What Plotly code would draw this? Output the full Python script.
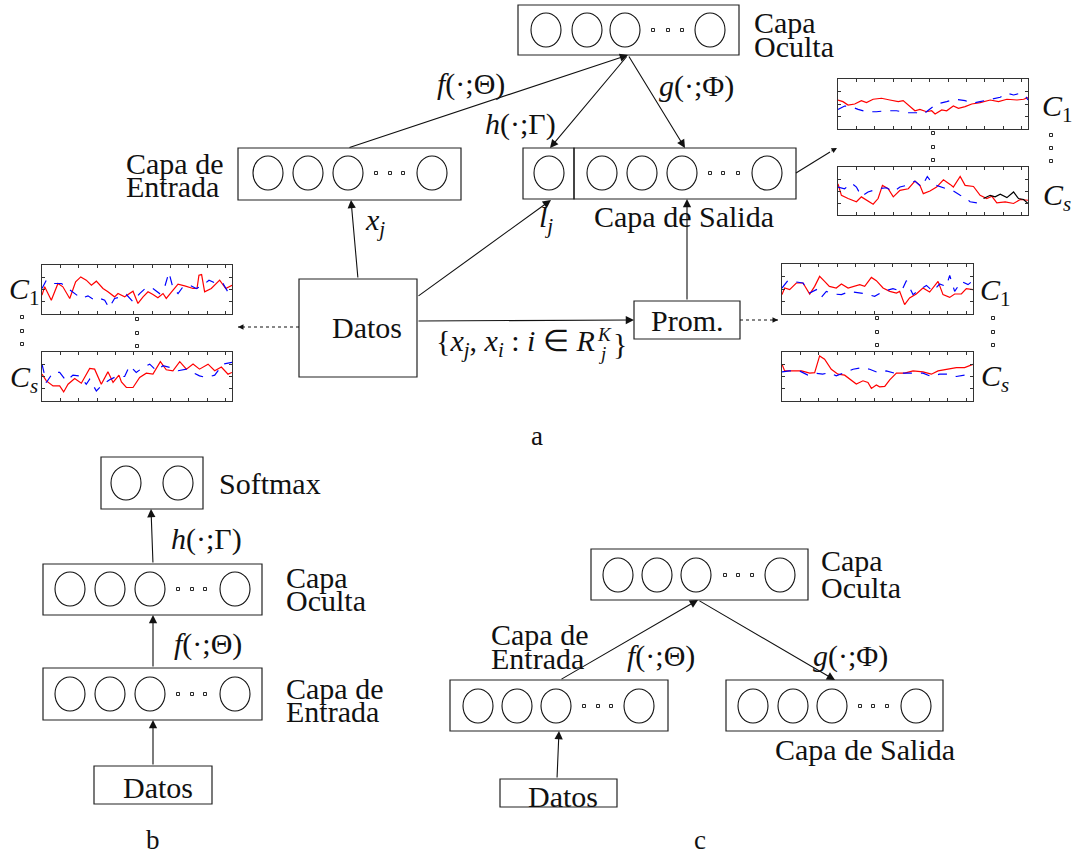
import plotly.graph_objects as go

W, H = 1077, 857
FONT = "Liberation Serif, 'Times New Roman', serif"
FS = 30

# ---------------- signal panels: t = % of window, v = standardized level ----------------
in_c1_red_t = [0, 1.4, 4.9, 8.4, 11, 14.6, 17.7, 20.4, 23.3, 26, 28.6, 32.1, 34.7, 38.2, 40, 43.5, 47.9, 50.5, 53.2, 55.8,
               58.4, 61, 63.7, 65.4, 68, 71.6, 75.1, 79.5, 81.6, 82.6, 84, 85.6, 89.1, 93.5, 96.7, 100]
in_c1_red_v = [-0.46, 0.22, -0.87, 0.49, 0.22, -0.73, 0.63, 1.03, 0.76, 0.35, 0.68, 0.08, -0.19, -0.6, -0.33, -0.6, -0.14,
               -1.14, -0.6, -0.19, -0.41, -0.68, -0.33, -0.73, -0.24, 0.44, 0.3, 0.08, 0.08, 1.17, 1.22, -0.19, 0.08, 0.76,
               0.08, 0.35]
in_c1_blue_t = [0, 2.3, 5.8, 10.2, 13.7, 17.2, 20.7, 24.2, 27.7, 30.4, 33, 35.3, 38.2, 41.8, 44.4, 47.9, 51.4, 54.9, 58.4,
                61.9, 64.6, 66.8, 69, 71.6, 74.2, 77.7, 81.2, 84.7, 87.9, 91.8, 95.3, 98.8]
in_c1_blue_v = [0.08, 0.76, 0.49, 0.49, 0.08, -0.33, -0.73, -0.52, -0.87, -0.73, -0.87, -1.5, -0.73, -0.6, -0.41, -1.0,
                -0.33, 0.16, 0.08, -0.33, 0.22, 1.39, 0.08, -0.33, 0.22, 0.35, 0.08, 0.35, 0.76, 0.49, 0.49, -0.46]

in_cs_red_t = [0, 2.3, 5.8, 9.3, 11.4, 13.7, 17.2, 20.7, 25.1, 27.7, 31.2, 34.7, 37.4, 40.5, 41.8, 44.4, 47.9, 51.4, 54.9,
               58.4, 62.3, 65.4, 68.9, 72.5, 76, 79.5, 82.9, 87.4, 90.9, 94.4, 97.9, 100]
in_cs_red_v = [0.19, -0.36, -0.77, -0.77, -1.26, -0.63, -0.16, -0.55, 0.66, 0.6, -0.63, 0.38, -0.49, 0.11, -0.44, -0.9,
               -0.9, -0.08, 0.27, 0.19, 1.21, 0.55, 0.47, 1.21, 0.6, 1.01, 0.6, 1.01, 0.47, 0.77, 0.19, 0.33]
in_cs_blue_t = [0, 2.3, 5.8, 9.3, 12.8, 16.3, 19.8, 23.3, 25.1, 28.6, 32.1, 35.6, 39.1, 43.5, 46.1, 49.6, 53.2, 56.7, 60.2,
                63.7, 67.2, 71.6, 76, 79.5, 82.9, 86.5, 90.9, 95.3, 100]
in_cs_blue_v = [1.01, -0.49, 0.33, 0.33, -0.36, 0.11, 0.05, -0.63, -0.22, -1.18, -0.63, -0.27, 0, 0, 0.88, 0.33, 0.74,
                1.01, 0.47, 0.88, 0.74, 0.47, 0.6, 0.33, 0.05, -0.08, 0.11, 1.01, 1.15]

avg_c1_red_t = [0, 1.4, 4, 7.5, 11, 14.5, 17.1, 19.7, 22.3, 24.8, 28.4, 31.1, 34.6, 38, 40.7, 43.3, 46.8, 49.4, 52.9, 56.4,
                59.9, 61.6, 64.2, 66.8, 70.3, 73.8, 77.3, 81.7, 84.3, 87.8, 90.4, 93.9, 96.5, 100]
avg_c1_red_v = [-0.45, 0.08, -0.05, 0.48, 0.48, -0.4, 0.21, 1.01, 0.61, 0.21, 0.08, 0.4, 0.08, 0.21, 0.35, 0.21, 0.93, 0.67,
                0.08, -0.19, -0.32, -0.19, -1.25, -0.72, -0.4, 0.08, -0.24, 0.61, -0.45, -0.67, -0.4, -0.4, 0.03, -0.05]
avg_c1_blue_t = [0, 3.1, 7.5, 11, 14.5, 18, 20.6, 23.2, 26.7, 31.1, 35.4, 39.8, 44.2, 48.5, 52.9, 58.1, 62.5, 65.1, 68.6,
                 72.1, 75.6, 79.1, 82.5, 86, 87.8, 90.4, 93.9, 97.4, 100]
avg_c1_blue_v = [0.08, 0.67, 0.56, 0.48, -0.32, -0.05, -0.67, -0.19, -0.4, -0.45, -0.19, -0.32, -0.4, -0.59, -0.19, 0.03,
                 -0.19, 0.67, -0.45, -0.05, 0.29, -0.19, 0.4, 0.21, 1.09, -0.19, 0.61, 0.35, 0.67]

avg_cs_red_t = [0, 1.4, 5.8, 10.2, 14.5, 17.1, 19.7, 22.3, 25.8, 29.3, 32.8, 36.3, 38.9, 42.4, 45, 46.8, 49.4, 51.1, 53.8,
                56.4, 59.9, 64.2, 68.6, 73.8, 78.2, 81.7, 86, 91.3, 95.6, 100]
avg_cs_red_v = [1.0, 0.46, 0.46, 0.46, 0.27, 0.32, 1.68, 1.41, 0.59, 0.19, 0.11, -0.35, -0.62, -0.35, -0.49, -0.97, -0.7,
                -0.84, -0.81, -0.27, 0.27, 0.27, 0.46, 0.38, 0.19, 0.46, 0.59, 0.73, 0.73, 1.0]
avg_cs_blue_t = [0, 4, 9.1, 13.5, 17.8, 21.3, 24.8, 28.4, 32.8, 37.2, 42.4, 45.9, 50.3, 54.6, 59, 63.4, 68.6, 73.8, 78.2,
                 82.5, 86.9, 91.3, 95.6, 100]
avg_cs_blue_v = [0.38, 0.46, 0.46, 0.11, 0.27, 0.19, 0.32, 0.05, 0.32, 0.59, 0.73, 0.59, 0.32, 0.46, 0.27, 0.27, 0.32, 0.27,
                 0, 0.19, 0.19, 0, 0.11, 0.19]

out_c1_red_t = [0, 2.6, 5.3, 8.8, 12.3, 15, 18.5, 22.9, 27.3, 31.7, 34.3, 37, 40.5, 43.1, 46.6, 49.3, 51.1, 54.6, 57.2,
                60.7, 63.4, 66.9, 70.4, 74.8, 80.1, 84.5, 88.9, 94.2, 97.7, 100]
out_c1_red_v = [0.32, 0.19, -0.08, 0, 0.27, 0.11, 0.38, 0.46, 0.32, 0.19, 0.27, -0.08, -0.54, -0.43, -0.62, -0.54, -0.8,
                -0.48, -0.54, -0.16, -0.35, -0.21, 0, 0.11, 0.32, 0.19, 0.38, 0.32, 0.38, 0.51]
out_c1_blue_t = [0, 3.5, 7, 10.6, 15, 20.2, 25.5, 30.8, 36.1, 41.4, 44.9, 48.4, 51.9, 57.2, 61.6, 66.9, 70.4, 74.8, 80.1,
                 85.4, 88.9, 92.4, 95.9, 98.6, 100]
out_c1_blue_v = [-0.43, -0.16, -0.21, -0.43, -0.62, -0.62, -0.54, -0.54, -0.7, -0.7, -0.8, -0.43, 0, 0.19, 0.38, 0.27,
                 0.05, 0.19, 0.38, 0.54, 0.86, 0.72, 0.86, 0.64, 0.32]

out_cs_red_t = [0, 1.8, 5.3, 9.7, 12.3, 15, 18.5, 21.1, 23.4, 26.4, 29.1, 32.6, 37, 40.5, 43.1, 44.9, 48.4, 51.9, 55.5, 59,
                60.7, 64.3, 66.9, 71.3, 74.8, 78.3, 81, 83.6, 88, 92.4, 95.9, 100]
out_cs_red_v = [0.6, -0.36, -0.63, -0.9, -0.49, -0.77, -1.1, -0.63, 0.47, 0.19, -0.49, 0.05, 0.19, 0.82, 0.47, -0.22, 0,
                0.33, 0.93, 0.55, 0.33, 1.21, 0.47, 0.38, -0.36, -0.63, -0.44, -0.99, -0.9, -1.04, -0.71, -0.77]
out_cs_blue_t = [0, 3.5, 7, 9.7, 12.3, 15.8, 21.1, 25.5, 29.1, 32.6, 36.1, 40.5, 44, 47, 50.2, 53.7, 57.2, 60.7, 64.3,
                 66.9, 69.5, 73.1, 76.6]
out_cs_blue_v = [0.33, 0.19, 0.66, 0.33, -0.44, -0.08, 0.19, 0.27, -0.08, 0.33, 0.47, 0.82, 0.33, 1.21, 0.55, 0.38, 0.19,
                 0, -0.36, -0.49, -0.9, -0.99, -0.63]
out_cs_black_t = [76.6, 80.1, 82.7, 85.4, 88.9, 92.4, 95, 97.7, 100]
out_cs_black_v = [-0.63, -0.36, -0.49, -0.27, -0.55, -0.08, -0.63, -0.71, -1.04]

# panel frames in page pixels: (x0, y0, x1, y1)
panels = [
    ((42, 265, 232, 314), [(in_c1_red_t, in_c1_red_v, "red"), (in_c1_blue_t, in_c1_blue_v, "blue")]),
    ((42, 352, 232, 401), [(in_cs_red_t, in_cs_red_v, "red"), (in_cs_blue_t, in_cs_blue_v, "blue")]),
    ((782, 264, 973, 314), [(avg_c1_red_t, avg_c1_red_v, "red"), (avg_c1_blue_t, avg_c1_blue_v, "blue")]),
    ((782, 352, 973, 401), [(avg_cs_red_t, avg_cs_red_v, "red"), (avg_cs_blue_t, avg_cs_blue_v, "blue")]),
    ((838, 79, 1028, 129), [(out_c1_red_t, out_c1_red_v, "red"), (out_c1_blue_t, out_c1_blue_v, "blue")]),
    ((838, 167, 1028, 215), [(out_cs_red_t, out_cs_red_v, "red"), (out_cs_blue_t, out_cs_blue_v, "blue"),
                             (out_cs_black_t, out_cs_black_v, "black")]),
]

fig = go.Figure()
shapes = []
annotations = []


def box(x0, y0, x1, y1):
    shapes.append(dict(type="rect", xref="x", yref="y", x0=x0, y0=y0, x1=x1, y1=y1,
                       line=dict(color="#222", width=1.2), fillcolor="rgba(0,0,0,0)"))


def neuron(cx, cy, rx=15, ry=17):
    shapes.append(dict(type="circle", xref="x", yref="y", x0=cx - rx, x1=cx + rx, y0=cy - ry, y1=cy + ry,
                       line=dict(color="#111", width=1.1)))


def tiny_dot(cx, cy):
    shapes.append(dict(type="rect", xref="x", yref="y", x0=cx - 1.5, x1=cx + 1.5, y0=cy - 1.5, y1=cy + 1.5,
                       line=dict(color="#111", width=0.9)))


def layer(xs, cy, dots):
    for cx in xs:
        neuron(cx, cy)
    for dx in dots:
        tiny_dot(dx, cy)


def arrow(x0, y0, x1, y1, size=1.5):
    annotations.append(dict(x=x1, y=y1, ax=x0, ay=y0, xref="x", yref="y", axref="x", ayref="y",
                            showarrow=True, arrowhead=2, arrowsize=size, arrowwidth=1.1, arrowcolor="#111",
                            text="", standoff=0, startstandoff=0))


def dotted_arrow(x0, y0, x1, y1):
    shapes.append(dict(type="line", xref="x", yref="y", x0=x0, y0=y0, x1=x1, y1=y1,
                       line=dict(color="#111", width=1.1, dash="dot")))
    dx, dy = x1 - x0, y1 - y0
    n = (dx * dx + dy * dy) ** 0.5
    arrow(x1 - 6 * dx / n, y1 - 6 * dy / n, x1, y1, size=1.0)


def line(x0, y0, x1, y1):
    shapes.append(dict(type="line", xref="x", yref="y", x0=x0, y0=y0, x1=x1, y1=y1,
                       line=dict(color="#111", width=1.1)))


def label(x, y, s, anchor="left", size=FS):
    annotations.append(dict(x=x, y=y, xref="x", yref="y", text=s, showarrow=False, xanchor=anchor,
                            yanchor="middle", font=dict(family=FONT, size=size, color="#111")))


# ================= (a) =================
box(518, 5, 739, 55)
layer([546, 587, 625, 710], 30, [653, 668, 682])
label(752, 22, "Capa")
label(752, 46, "Oculta")

box(238, 148, 461, 200)
layer([268, 308, 348, 432], 173, [376, 390, 403])
label(124, 163, "Capa de")
label(124, 186, "Entrada")

box(523, 148, 574, 199)
box(574, 148, 796, 199)
layer([549, 602, 642, 682, 767], 173, [710, 723, 738])
label(592, 216, "Capa de Salida")

box(299, 279, 417, 377)
label(367, 327, "Datos", anchor="center")
box(634, 301, 740, 339)
label(687, 320, "Prom.", anchor="center")

arrow(348, 148, 628, 55)
arrow(628, 55, 550, 148)
arrow(628, 55, 685, 148)
label(471, 84, "<i>f</i>(·;Θ)", anchor="center")
label(520, 124, "<i>h</i>(·;Γ)", anchor="center")
label(696, 86, "<i>g</i>(·;Φ)", anchor="center")

arrow(358, 279, 351, 200)
label(375, 222, "<i>x</i><sub><i>j</i></sub>", anchor="center")
arrow(417, 297, 551, 200)
label(546, 219, "<i>l</i><sub><i>j</i></sub>", anchor="center")
arrow(417, 321, 634, 320)
# neighbourhood set, with stacked K / j indices on R
label(597, 343, "{<i>x</i><sub><i>j</i></sub>, <i>x</i><sub><i>i</i></sub> : <i>i</i> ∈ <i>R</i>", anchor="right")
label(595, 334, "<i>K</i>", size=19)
label(596, 353, "<i>j</i>", size=19)
label(611, 343, "}")
arrow(687, 301, 687, 199)
dotted_arrow(740, 320, 778, 320)
dotted_arrow(299, 327, 238, 327)
line(796, 173, 830, 152)
arrow(830, 152, 837, 148, size=1.0)

# channel labels and vertical ellipses next to the panels
label(24, 291, "<i>C</i><sub>1</sub>", anchor="center")
label(24, 379, "<i>C</i><sub><i>s</i></sub>", anchor="center")
label(995, 292, "<i>C</i><sub>1</sub>", anchor="center")
label(995, 378, "<i>C</i><sub><i>s</i></sub>", anchor="center")
label(1057, 108, "<i>C</i><sub>1</sub>", anchor="center")
label(1057, 197, "<i>C</i><sub><i>s</i></sub>", anchor="center")
for cx, ys in [(22, [317, 331, 344]), (137, [319, 333, 346]), (877, [318, 332, 345]), (993, [318, 332, 345]),
               (933, [133, 147, 160]), (1051, [135, 148, 161])]:
    for cy in ys:
        tiny_dot(cx, cy)

label(537, 436, "a", anchor="center", size=27)

# ================= (b) =================
box(101, 457, 203, 509)
layer([126, 178], 483, [])
label(217, 483, "Softmax")
box(43, 564, 262, 615)
layer([70, 110, 150, 235], 589, [178, 192, 205])
label(284, 577, "Capa")
label(284, 600, "Oculta")
box(43, 668, 262, 720)
layer([70, 110, 150, 235], 694, [178, 192, 205])
label(284, 688, "Capa de")
label(284, 711, "Entrada")
box(94, 766, 212, 804)
label(158, 787, "Datos", anchor="center")
arrow(153, 564, 151, 509)
arrow(153, 668, 153, 615)
arrow(153, 766, 153, 720)
label(206, 539, "<i>h</i>(·;Γ)", anchor="center")
label(208, 644, "<i>f</i>(·;Θ)", anchor="center")
label(153, 840, "b", anchor="center", size=27)

# ================= (c) =================
box(591, 549, 808, 600)
layer([618, 657, 696, 780], 575, [725, 738, 752])
label(819, 560, "Capa")
label(819, 587, "Oculta")
box(450, 680, 668, 731)
layer([478, 517, 556, 639], 706, [584, 598, 611])
label(489, 634, "Capa de")
label(489, 658, "Entrada")
box(726, 680, 943, 731)
layer([753, 793, 832, 916], 706, [860, 873, 887])
label(773, 749, "Capa de Salida")
box(500, 779, 617, 807)
label(563, 796, "Datos", anchor="center")
arrow(560, 680, 698, 600)
arrow(698, 600, 835, 680)
arrow(557, 779, 559, 731)
label(661, 656, "<i>f</i>(·;Θ)", anchor="center")
label(850, 656, "<i>g</i>(·;Φ)", anchor="center")
label(700, 840, "c", anchor="center", size=27)

# ---------------- signal panels as inset axes ----------------
colors = {"red": "#ff0000", "blue": "#0000ff", "black": "#000000"}
layout_axes = {}
for k, ((x0, y0, x1, y1), series) in enumerate(panels):
    n = k + 2
    for t, v, c in series:
        fig.add_trace(go.Scatter(x=t, y=v, mode="lines", xaxis=f"x{n}", yaxis=f"y{n}", showlegend=False,
                                 hoverinfo="skip",
                                 line=dict(color=colors[c], width=1.2, dash="dash" if c == "blue" else "solid")))
    common = dict(showline=True, linecolor="#333", linewidth=1, mirror="ticks", ticks="inside", ticklen=3,
                  tickcolor="#333", showticklabels=False, showgrid=False, zeroline=False, fixedrange=True)
    layout_axes[f"xaxis{n}"] = dict(domain=[x0 / W, x1 / W], range=[0, 100], tick0=0, dtick=9.65,
                                    anchor=f"y{n}", **common)
    layout_axes[f"yaxis{n}"] = dict(domain=[1 - y1 / H, 1 - y0 / H], range=[-2, 2], tick0=-1, dtick=1,
                                    anchor=f"x{n}", **common)

# invisible base trace so the main pixel axes exist
fig.add_trace(go.Scatter(x=[0, W], y=[0, H], mode="markers", marker=dict(opacity=0), showlegend=False,
                         hoverinfo="skip"))

fig.update_layout(
    width=W, height=H, margin=dict(l=0, r=0, t=0, b=0),
    paper_bgcolor="white", plot_bgcolor="rgba(0,0,0,0)",
    font=dict(family=FONT),
    xaxis=dict(range=[0, W], domain=[0, 1], visible=False, fixedrange=True),
    yaxis=dict(range=[H, 0], domain=[0, 1], visible=False, fixedrange=True),
    shapes=shapes, annotations=annotations, showlegend=False,
    **layout_axes,
)

fig.write_html("out.html", config={"displayModeBar": False})
